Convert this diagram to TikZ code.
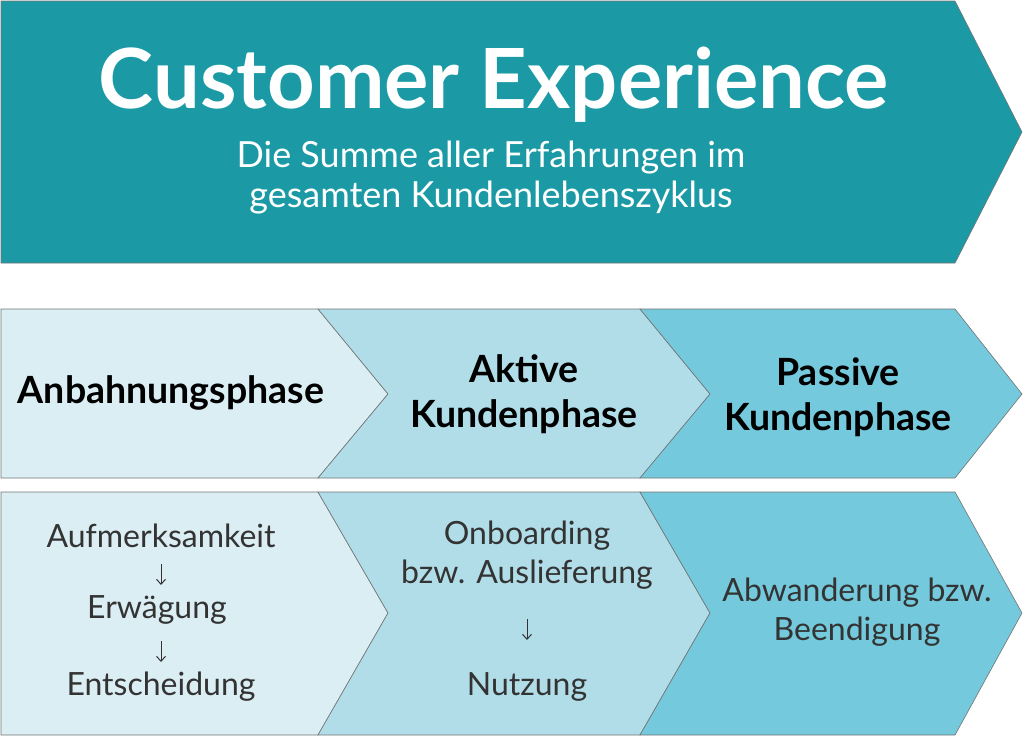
\documentclass[tikz,border=0pt]{standalone}
\usepackage{fontspec}
\setmainfont{Lato}
\usetikzlibrary{arrows.meta}
\definecolor{teal1}{HTML}{1B9AA5}
\definecolor{c1}{HTML}{DAEEF4}
\definecolor{c2}{HTML}{B1DDE9}
\definecolor{c3}{HTML}{74C9DC}
\definecolor{txt}{HTML}{333333}
\begin{document}
\begin{tikzpicture}[x=1pt,y=-1pt,
  shp/.style={draw=black!55,line width=0.6pt},
  big/.style={font=\fontsize{37.5}{45}\selectfont\bfseries,align=center,text=black},
  sm/.style={font=\fontsize{32}{39}\selectfont,align=center,text=txt},
  dn/.style={-{Straight Barb[length=5pt,width=9pt]},line width=1pt,draw=txt}]
\useasboundingbox (0,0) rectangle (1024,737);
\fill[teal1,shp] (1,1)--(955,1)--(1022,132)--(955,263)--(1,263)--cycle;
\node[text=white,font=\fontsize{83}{85}\selectfont\bfseries] (t) at (494,85) {Customer Experience};
\node[text=white,font=\fontsize{36}{40}\selectfont,align=center] (s) at (491,178) {Die Summe aller Erfahrungen im\\gesamten Kundenlebenszyklus};
\fill[c1,shp] (1,309)--(318,309)--(388,394)--(318,478)--(1,478)--cycle;
\fill[c2,shp] (318,309)--(640,309)--(710,394)--(640,478)--(318,478)--(388,394)--cycle;
\fill[c3,shp] (640,309)--(955,309)--(1022,394)--(955,478)--(640,478)--(710,394)--cycle;
\fill[c1,shp] (1,492)--(318,492)--(388,613)--(318,735)--(1,735)--cycle;
\fill[c2,shp] (318,492)--(640,492)--(710,613)--(640,735)--(318,735)--(388,613)--cycle;
\fill[c3,shp] (640,492)--(955,492)--(1022,613)--(955,735)--(640,735)--(710,613)--cycle;
\node[big] (p1) at (171,393) {Anbahnungsphase};
\node[big] (p2) at (524,394) {Aktive\\Kundenphase};
\node[big] (p3) at (838,397) {Passive\\Kundenphase};
\node[sm] (a1) at (161,536) {Aufmerksamkeit};
\node[sm] (a2) at (157,610) {Erwägung};
\node[sm] (a3) at (161,687) {Entscheidung};
\coordinate (u1) at (161,564); \coordinate (v1) at (161,585);
\coordinate (u2) at (161,641); \coordinate (v2) at (161,662);
\draw[dn] (u1) -- (v1);
\draw[dn] (u2) -- (v2);
\node[sm] (b1) at (527,555) {Onboarding\\bzw. Auslieferung};
\node[sm] (b2) at (527,687) {Nutzung};
\coordinate (u3) at (527,619); \coordinate (v3) at (527,640);
\draw[dn] (u3) -- (v3);
\node[sm] (c) at (857,612) {Abwanderung bzw.\\Beendigung};
\end{tikzpicture}
\end{document}
